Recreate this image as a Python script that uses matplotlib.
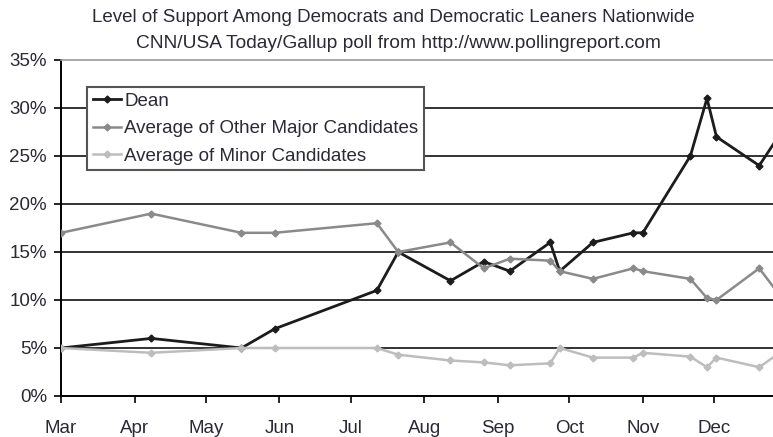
import datetime as dt
import matplotlib
matplotlib.use("Agg")
import matplotlib.pyplot as plt
import matplotlib.dates as mdates
from matplotlib.ticker import FuncFormatter

plt.rcParams["font.family"] = ["Liberation Sans", "DejaVu Sans"]

# poll dates (2003) and support levels, percent
poll_dates = ["03-01", "04-08", "05-16", "05-30", "07-12", "07-21", "08-12", "08-26",
              "09-06", "09-23", "09-27", "10-11", "10-28", "11-01", "11-21", "11-28",
              "12-02", "12-20", "12-28"]
dean = [5, 6, 5, 7, 11, 15, 12, 14, 13, 16, 13, 16, 17, 17, 25, 31, 27, 24, 27]
other_major = [17, 19, 17, 17, 18, 15, 16, 13.3, 14.3, 14.1, 13, 12.2, 13.3, 13, 12.2, 10.2, 10, 13.3, 10.7]
minor = [5, 4.5, 5, 5, 5, 4.3, 3.7, 3.5, 3.2, 3.4, 5, 4, 4, 4.5, 4.1, 3, 4, 3, 4.4]

x = [dt.date(2003, int(d[:2]), int(d[3:])) for d in poll_dates]

W, H = 773, 437
fig = plt.figure(figsize=(W / 100, H / 100), dpi=100)
ax = fig.add_axes([61 / W, 41 / H, 712 / W, 336 / H])

series = [
    (dean, "Dean", "#1c1c1c", 2.0),
    (other_major, "Average of Other Major Candidates", "#8a8a8a", 1.8),
    (minor, "Average of Minor Candidates", "#bdbdbd", 1.8),
]
for vals, label, color, lw in series:
    ax.plot(x, vals, color=color, lw=lw, marker="D", ms=3.5, label=label, zorder=3)

start = mdates.date2num(dt.date(2003, 3, 1))
ax.set_xlim(start, start + 299.8)
ax.set_ylim(0, 35)
ax.set_yticks(range(0, 36, 5))
ax.yaxis.set_major_formatter(FuncFormatter(lambda v, _: f"{v:.0f}%"))
ax.xaxis.set_major_locator(mdates.MonthLocator())
ax.xaxis.set_major_formatter(mdates.DateFormatter("%b"))

for v in range(5, 35, 5):
    ax.axhline(v, color="#111111", lw=1.2, zorder=1)

ax.spines["right"].set_visible(False)
ax.spines["top"].set_color("#9a9a9a")
ax.spines["top"].set_linewidth(1.2)
ax.spines["left"].set_linewidth(1.4)
ax.spines["bottom"].set_linewidth(1.4)
ax.tick_params(axis="both", direction="out", length=5, width=1.2, labelsize=13.5,
               labelcolor="#2a2a35")
ax.tick_params(axis="x", pad=12)
ax.tick_params(axis="y", pad=5)

leg = ax.legend(loc="upper left", bbox_to_anchor=(26 / 712, (396 - 87) / 336),
                borderaxespad=0, fancybox=False, framealpha=1, edgecolor="#555555",
                fontsize=13.5, handlelength=1.5, handletextpad=0.2,
                labelspacing=0.55, borderpad=0.3)
leg.get_frame().set_linewidth(1.5)
for t in leg.get_texts():
    t.set_color("#2a2a35")

fig.text(393 / W, 1 - 18 / H, "Level of Support Among Democrats and Democratic Leaners Nationwide",
         ha="center", va="center", fontsize=13.5, color="#2a2a35")
fig.text(398 / W, 1 - 43 / H, "CNN/USA Today/Gallup poll from http://www.pollingreport.com",
         ha="center", va="center", fontsize=13.8, color="#2a2a35")

fig.savefig("out.png", dpi=100)
